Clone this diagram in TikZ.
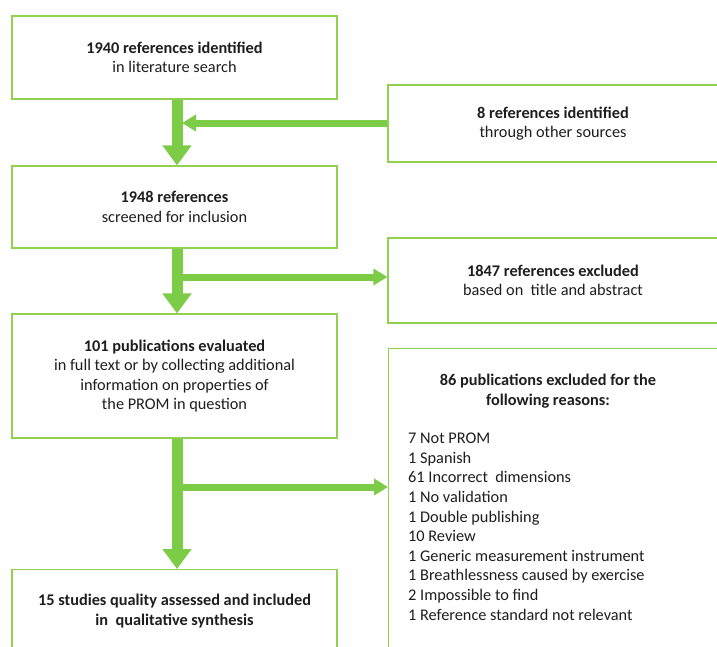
\documentclass[tikz,border=0pt]{standalone}
\usepackage{fontspec}
\setmainfont{Carlito}
\usetikzlibrary{arrows.meta}
\definecolor{boxgreen}{RGB}{146,208,80}
\definecolor{arrgreen}{RGB}{124,204,72}
\definecolor{txtgray}{RGB}{30,30,30}
\tikzset{
  box/.style={draw=boxgreen, line width=1.2pt, fill=white, inner sep=0pt, align=center,
    text=txtgray, font=\fontsize{16.3}{19.6}\selectfont},
  bigarrow/.style={arrgreen, line width=11pt, -{Triangle[width=28pt,length=20pt]}},
  sidearrow/.style={arrgreen, line width=7pt, -{Triangle[width=16pt,length=14pt]}},
  txt/.style={inner sep=0pt, text=txtgray, font=\fontsize{16.3}{19.6}\selectfont},
}
\begin{document}
\begin{tikzpicture}[x=1pt,y=-1pt]
\useasboundingbox (0,0) rectangle (717,646);
\clip (0,0) rectangle (717,646);
\node[box, minimum width=325pt, minimum height=83pt] (A) at (174.5,57.5)
  {\textbf{1940 references identified}\\in literature search};
\node[box, minimum width=330pt, minimum height=77pt] (B) at (553,123.5)
  {\textbf{8 references identified}\\through other sources};
\node[box, minimum width=325pt, minimum height=82pt] (C) at (174.5,207)
  {\textbf{1948 references}\\screened for inclusion};
\node[box, minimum width=330pt, minimum height=85pt] (D) at (553,280.5)
  {\textbf{1847 references excluded}\\based on\ \ title and abstract};
\node[box, minimum width=325pt, minimum height=124pt] (E) at (174.5,376)
  {\textbf{101 publications evaluated}\\in full text or by collecting additional\\information on properties of\\the PROM in question};
\node[box, minimum width=330pt, minimum height=330pt, anchor=north west] (F) at (388,348) {};
\node[box, minimum width=325pt, minimum height=110pt, anchor=north] (G) at (174.5,569) {};
\node[txt, align=center] (Ft) at (548,391)
  {\textbf{86 publications excluded for the}\\\textbf{following reasons:}};
\node[txt, align=left, anchor=north west] (Fl) at (408,433)
  {7 Not PROM\\1 Spanish\\61 Incorrect\ \ dimensions\\1 No validation\\1 Double publishing\\10 Review\\1 Generic measurement instrument\\1 Breathlessness caused by exercise\\2 Impossible to find\\1 Reference standard not relevant};
\node[txt, align=center] (Gt) at (174.5,611)
  {\textbf{15 studies quality assessed and included}\\\textbf{in\ \ qualitative synthesis}};
% arrows
\coordinate (m1) at (182,123);
\coordinate (j2) at (177,277);
\coordinate (j3) at (177,487);
\draw[bigarrow] ([xshift=2.5pt]A.south) -- ([xshift=2.5pt]C.north);
\draw[sidearrow] (B.west |- m1) -- (m1);
\draw[bigarrow] ([xshift=2.5pt]C.south) -- ([xshift=2.5pt]E.north);
\draw[sidearrow] (j2) -- (j2 -| D.west);
\draw[bigarrow] ([xshift=2.5pt]E.south) -- ([xshift=2.5pt]G.north);
\draw[sidearrow] (j3) -- (j3 -| F.west);
\end{tikzpicture}
\end{document}
